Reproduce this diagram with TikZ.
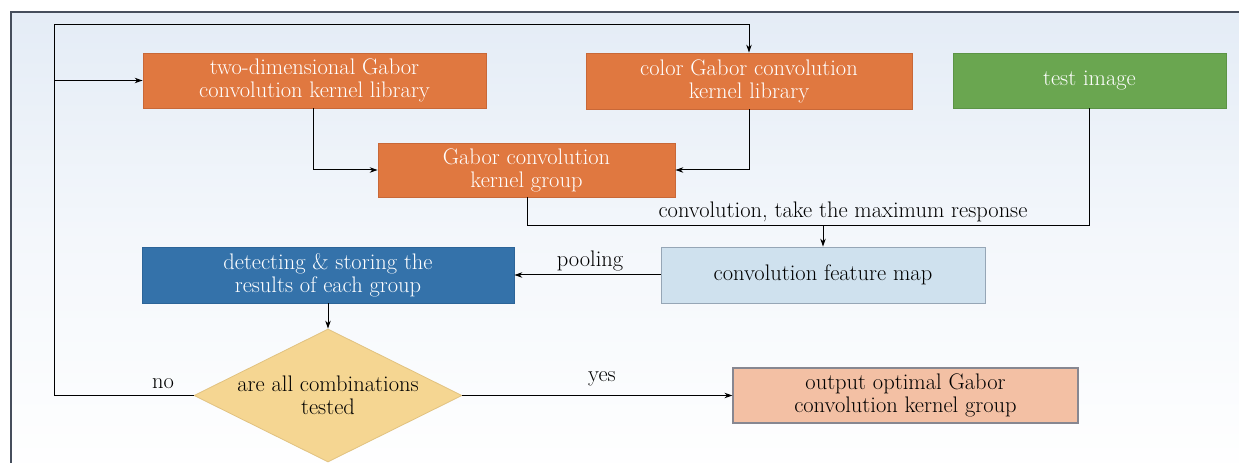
\documentclass[tikz,border=0pt]{standalone}
\usetikzlibrary{arrows.meta,shapes.geometric}
\definecolor{orangebox}{RGB}{224,120,64}
\definecolor{orangeedge}{RGB}{200,104,56}
\definecolor{greenbox}{RGB}{106,166,80}
\definecolor{greenedge}{RGB}{92,148,70}
\definecolor{bluebox}{RGB}{52,114,170}
\definecolor{blueedge}{RGB}{44,100,152}
\definecolor{paleblue}{RGB}{207,225,238}
\definecolor{paleedge}{RGB}{150,166,182}
\definecolor{salmon}{RGB}{243,192,164}
\definecolor{salmonedge}{RGB}{135,135,145}
\definecolor{sand}{RGB}{245,214,146}
\definecolor{sandedge}{RGB}{225,194,128}
\definecolor{framecol}{RGB}{70,78,92}
\definecolor{bgtop}{RGB}{228,236,246}
\tikzset{
  every node/.style={font=\fontsize{22.5bp}{23bp}\selectfont},
  box/.style={rectangle, align=center, inner sep=0pt, line width=0.8bp},
  orangestep/.style={box, fill=orangebox, draw=orangeedge, text=white},
  greenstep/.style={box, fill=greenbox, draw=greenedge, text=white},
  bluestep/.style={box, fill=bluebox, draw=blueedge, text=white},
  palestep/.style={box, fill=paleblue, draw=paleedge, text=black},
  outstep/.style={box, fill=salmon, draw=salmonedge, line width=1.2bp, text=black},
  decision/.style={diamond, aspect=2, align=center, inner sep=0pt, fill=sand, draw=sandedge, line width=0.8bp},
  link/.style={draw=black, line width=1bp},
  arr/.style={link, -{Stealth[length=8bp,width=5.5bp]}},
  lbl/.style={inner sep=0pt, text=black}
}
\begin{document}
\begin{tikzpicture}[x=1bp, y=-1bp]
  \useasboundingbox (0,0) rectangle (1239,463);
  \clip (0,0) rectangle (1239,463);
  % panel background and frame
  \fill[white] (0,0) rectangle (1239,463);
  \shade[top color=bgtop, bottom color=white, middle color={bgtop!40!white}] (11,12) rectangle (1260,480);
  \draw[framecol, line width=2.6bp] (11,480) -- (11,12) -- (1260,12);

  % process boxes
  \node[orangestep, minimum width=343bp, minimum height=55bp] (lib2d) at (314.5,80.5)
    {two-dimensional Gabor\\convolution kernel library};
  \node[orangestep, minimum width=326bp, minimum height=56bp] (libcol) at (749,81)
    {color Gabor convolution\\kernel library};
  \node[greenstep, minimum width=273bp, minimum height=55bp] (test) at (1089.5,80.5)
    {test image};
  \node[orangestep, minimum width=297bp, minimum height=54bp] (group) at (526.5,170)
    {Gabor convolution\\kernel group};
  \node[palestep, minimum width=324bp, minimum height=56bp] (fmap) at (823,275)
    {convolution feature map};
  \node[bluestep, minimum width=372bp, minimum height=56bp] (detect) at (328,275)
    {detecting \& storing the\\results of each group};
  \node[decision, minimum width=268bp, minimum height=133bp] (test2) at (328,395.5)
    {are all combinations\\tested};
  \node[outstep, minimum width=345bp, minimum height=55bp] (out) at (905.5,395.5)
    {output optimal Gabor\\convolution kernel group};

  % routing points
  \coordinate (loopbot) at (54,395.5);
  \coordinate (looptop) at (54,25);
  \coordinate (loopmid) at (54,80.5);
  \coordinate (convl) at (527,226);
  \coordinate (convr) at (1089.5,226);
  \coordinate (convm) at (823,226);

  % connectors
  \draw[arr] (test2.west) -- (loopbot) -- (looptop) -| (libcol.north);
  \draw[arr] (loopmid) -- (lib2d.west);
  \draw[arr] (lib2d.south -| 313,0) |- (group.west);
  \draw[arr] (libcol.south) |- (group.east);
  \draw[link] (convl |- group.south) -- (convl) -- (convr) -- (test.south);
  \draw[arr] (convm) -- (fmap.north);
  \draw[arr] (fmap.west) -- (detect.east);
  \draw[arr] (detect.south) -- (test2.north);
  \draw[arr] (test2.east) -- (out.west);

  % connector labels
  \node[lbl] (lconv) at (843,212) {convolution, take the maximum response};
  \node[lbl] (lpool) at (590,261) {pooling};
  \node[lbl] (lyes) at (602,379) {yes};
  \node[lbl] (lno) at (163,384) {no};
\end{tikzpicture}
\end{document}
